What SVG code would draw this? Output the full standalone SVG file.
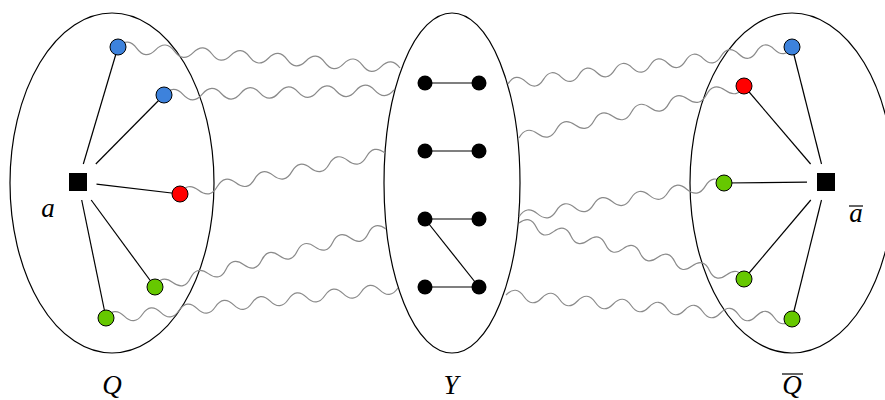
<svg xmlns="http://www.w3.org/2000/svg" width="885" height="400" viewBox="0 0 885 400">
<style>
.set{fill:none;stroke:#000;stroke-width:1.2}
.edge{stroke:#000;stroke-width:1.2;fill:none}
.wave{fill:none;stroke:#8a8a8a;stroke-width:1.2}
.v{stroke:#000;stroke-width:1}
.blue{fill:#3d82dc}
.red{fill:#ff0000}
.green{fill:#66c800}
.blk{fill:#000}
.lbl{font-family:"Liberation Serif","DejaVu Serif",serif;font-style:italic;font-size:27px;fill:#000}
.bar{stroke:#000;stroke-width:1.2}
</style>
<rect width="885" height="400" fill="#fff"/>
<g id="set-Q"><ellipse class="set" cx="112" cy="183" rx="102" ry="170"/></g>
<g id="set-Y"><ellipse class="set" cx="452" cy="183" rx="68" ry="170"/></g>
<g id="set-Qbar"><ellipse class="set" cx="792" cy="183" rx="102" ry="170"/></g>

<g id="connectors">
<g id="waves">
<path class="wave" transform="translate(118,47) rotate(4.26)" d="M0,0 q9.43,-11 18.85,0 t18.85,0 t18.85,0 t18.85,0 t18.85,0 t18.85,0 t18.85,0 t18.85,0 t18.85,0 t18.85,0 t18.85,0 t18.85,0 t18.85,0 t18.85,0 t18.85,0"/>
<path class="wave" transform="translate(164,95) rotate(-1.25)" d="M0,0 q9.59,-11 19.17,0 t19.17,0 t19.17,0 t19.17,0 t19.17,0 t19.17,0 t19.17,0 t19.17,0 t19.17,0 t19.17,0 t19.17,0 t19.17,0"/>
<path class="wave" transform="translate(180,194) rotate(-11.31)" d="M0,0 q9.5,-11 19.01,0 t19.01,0 t19.01,0 t19.01,0 t19.01,0 t19.01,0 t19.01,0 t19.01,0 t19.01,0 t19.01,0 t19.01,0"/>
<path class="wave" transform="translate(155,287) rotate(-14.09)" d="M0,0 q9.16,-11 18.32,0 t18.32,0 t18.32,0 t18.32,0 t18.32,0 t18.32,0 t18.32,0 t18.32,0 t18.32,0 t18.32,0 t18.32,0 t18.32,0 t18.32,0"/>
<path class="wave" transform="translate(106,318) rotate(-5.87)" d="M0,0 q9.17,-11 18.34,0 t18.34,0 t18.34,0 t18.34,0 t18.34,0 t18.34,0 t18.34,0 t18.34,0 t18.34,0 t18.34,0 t18.34,0 t18.34,0 t18.34,0 t18.34,0 t18.34,0 t18.34,0"/>
<path class="wave" transform="translate(508,84) rotate(-7.42)" d="M0,0 q8.95,-11 17.9,0 t17.9,0 t17.9,0 t17.9,0 t17.9,0 t17.9,0 t17.9,0 t17.9,0 t17.9,0 t17.9,0 t17.9,0 t17.9,0 t17.9,0 t17.9,0 t17.9,0 t17.9,0"/>
<path class="wave" transform="translate(519,138) rotate(-13.01)" d="M0,0 q9.62,-11 19.24,0 t19.24,0 t19.24,0 t19.24,0 t19.24,0 t19.24,0 t19.24,0 t19.24,0 t19.24,0 t19.24,0 t19.24,0 t19.24,0"/>
<path class="wave" transform="translate(519,217) rotate(-9.42)" d="M0,0 q9.45,-11 18.89,0 t18.89,0 t18.89,0 t18.89,0 t18.89,0 t18.89,0 t18.89,0 t18.89,0 t18.89,0 t18.89,0 t18.89,0"/>
<path class="wave" transform="translate(519,223) rotate(13.98)" d="M0,0 q8.92,-11 17.84,0 t17.84,0 t17.84,0 t17.84,0 t17.84,0 t17.84,0 t17.84,0 t17.84,0 t17.84,0 t17.84,0 t17.84,0 t17.84,0 t17.84,0"/>
<path class="wave" transform="translate(506,295) rotate(4.8)" d="M0,0 q8.97,-11 17.94,0 t17.94,0 t17.94,0 t17.94,0 t17.94,0 t17.94,0 t17.94,0 t17.94,0 t17.94,0 t17.94,0 t17.94,0 t17.94,0 t17.94,0 t17.94,0 t17.94,0 t17.94,0"/>
</g>
<g id="edges-Q">
<line class="edge" x1="83.3" y1="164" x2="118" y2="47"/>
<line class="edge" x1="95.8" y1="164" x2="164" y2="95"/>
<line class="edge" x1="96.5" y1="184.1" x2="180" y2="194"/>
<line class="edge" x1="91.2" y1="200" x2="155" y2="287"/>
<line class="edge" x1="81.7" y1="200" x2="106" y2="318"/>
</g>
<g id="edges-Qbar">
<line class="edge" x1="821.5" y1="164" x2="792" y2="47"/>
<line class="edge" x1="810.6" y1="164" x2="744" y2="86"/>
<line class="edge" x1="807" y1="182.2" x2="724" y2="183"/>
<line class="edge" x1="810.8" y1="200" x2="744" y2="279"/>
<line class="edge" x1="821.5" y1="200" x2="792" y2="319"/>
</g>
<g id="edges-Y">
<line class="edge" x1="425" y1="83" x2="479" y2="83"/>
<line class="edge" x1="425" y1="151" x2="479" y2="151"/>
<line class="edge" x1="425" y1="219" x2="479" y2="219"/>
<line class="edge" x1="425" y1="287" x2="479" y2="287"/>
<line class="edge" x1="425" y1="219" x2="479" y2="287"/>
</g>
</g>

<g id="node-a"><rect class="blk" x="69" y="173" width="18" height="18"/></g>
<g id="node-q1"><circle class="blue v" cx="118" cy="47" r="8"/></g>
<g id="node-q2"><circle class="blue v" cx="164" cy="95" r="8"/></g>
<g id="node-q3"><circle class="red v" cx="180" cy="194" r="8"/></g>
<g id="node-q4"><circle class="green v" cx="155" cy="287" r="8"/></g>
<g id="node-q5"><circle class="green v" cx="106" cy="318" r="8"/></g>

<g id="node-abar"><rect class="blk" x="817" y="173" width="18" height="18"/></g>
<g id="node-p1"><circle class="blue v" cx="792" cy="47" r="8"/></g>
<g id="node-p2"><circle class="red v" cx="744" cy="86" r="8"/></g>
<g id="node-p3"><circle class="green v" cx="724" cy="183" r="8"/></g>
<g id="node-p4"><circle class="green v" cx="744" cy="279" r="8"/></g>
<g id="node-p5"><circle class="green v" cx="792" cy="319" r="8"/></g>

<g id="node-y1"><circle class="blk" cx="425" cy="83" r="7.5"/></g>
<g id="node-y2"><circle class="blk" cx="479" cy="83" r="7.5"/></g>
<g id="node-y3"><circle class="blk" cx="425" cy="151" r="7.5"/></g>
<g id="node-y4"><circle class="blk" cx="479" cy="151" r="7.5"/></g>
<g id="node-y5"><circle class="blk" cx="425" cy="219" r="7.5"/></g>
<g id="node-y6"><circle class="blk" cx="479" cy="219" r="7.5"/></g>
<g id="node-y7"><circle class="blk" cx="425" cy="287" r="7.5"/></g>
<g id="node-y8"><circle class="blk" cx="479" cy="287" r="7.5"/></g>

<g id="labels">
<text class="lbl" x="48" y="217" text-anchor="middle">a</text>
<text class="lbl" x="112" y="394" text-anchor="middle">Q</text>
<text class="lbl" x="451" y="394" text-anchor="middle">Y</text>
<text class="lbl" x="792" y="394" text-anchor="middle">Q</text>
<line class="bar" x1="782" y1="374" x2="803" y2="374"/>
<text class="lbl" x="856" y="222" text-anchor="middle">a</text>
<line class="bar" x1="849" y1="206" x2="863" y2="206"/>
</g>
</svg>
